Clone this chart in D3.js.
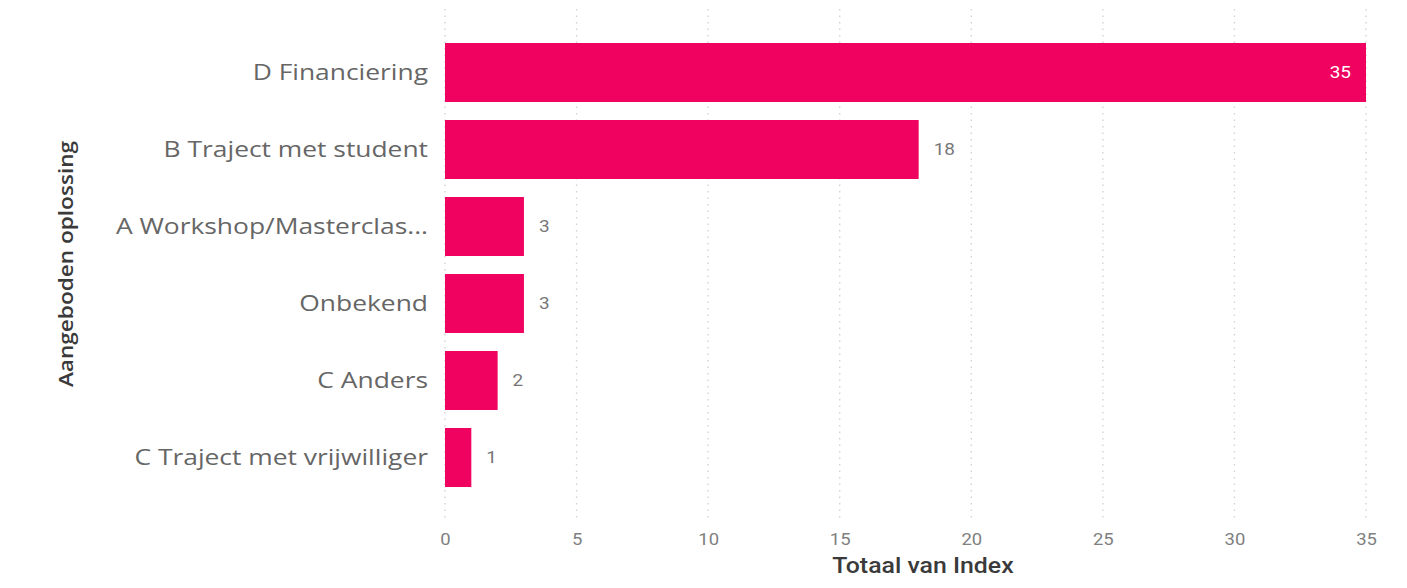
<!DOCTYPE html>
<html>
<head>
<meta charset="utf-8">
<script src="https://cdn.jsdelivr.net/npm/d3@7"></script>
<style>
  html, body { margin: 0; padding: 0; background: #fff; }
  svg { display: block; }
</style>
</head>
<body>
<svg id="chart" width="1407" height="588"></svg>
<script>
// Categories and their totals, top to bottom
const categories = [
  "D Financiering",
  "B Traject met student",
  "A Workshop/Masterclas...",
  "Onbekend",
  "C Anders",
  "C Traject met vrijwilliger"
];
const values = [35, 18, 3, 3, 2, 1];
const xTicks = [0, 5, 10, 15, 20, 25, 30, 35];

const xTitle = "Totaal van Index";
const yTitle = "Aangeboden oplossing";

const rows = categories.map((c, i) => ({ cat: c, val: values[i] }));

const svg = d3.select("#chart");

const x = d3.scaleLinear().domain([0, 35]).range([445, 1366]);
const y = d3.scaleBand()
  .domain(categories)
  .range([34, 496])
  .paddingInner(0.234)
  .paddingOuter(0.117);

const barColor = "#F00360";

// Widen a text element horizontally around its own anchor point
function widen(sel, sx) {
  sel.each(function () {
    const t = d3.select(this);
    const tx = +t.attr("x") || 0;
    const ty = +t.attr("y") || 0;
    t.attr("transform", `translate(${tx},${ty}) scale(${sx},1) translate(${-tx},${-ty})`);
  });
}

// Dotted vertical gridlines
svg.append("g")
  .selectAll("line")
  .data(xTicks)
  .join("line")
  .attr("x1", d => x(d)).attr("x2", d => x(d))
  .attr("y1", 9).attr("y2", 522)
  .attr("stroke", "#d3d3d3")
  .attr("stroke-width", 1.4)
  .attr("stroke-dasharray", "1.5,5");

// X axis tick labels
const xAxis = d3.axisBottom(x).tickValues(xTicks).tickSize(0).tickPadding(0);
const gx = svg.append("g").attr("transform", "translate(0,533)").call(xAxis);
gx.select(".domain").remove();
gx.selectAll("text")
  .attr("fill", "#808080")
  .attr("font-family", "Roboto, sans-serif")
  .attr("font-size", 16.5)
  .call(widen, 1.12);

// Y axis category labels
const yAxis = d3.axisLeft(y).tickSize(0).tickPadding(17);
const gy = svg.append("g").attr("transform", "translate(445,0)").call(yAxis);
gy.select(".domain").remove();
gy.selectAll("text")
  .attr("fill", "#666")
  .attr("font-family", "'Open Sans', sans-serif")
  .attr("font-size", 22)
  .call(widen, 1.2);

// Bars
svg.append("g")
  .selectAll("rect")
  .data(rows)
  .join("rect")
  .attr("x", x(0))
  .attr("y", d => y(d.cat))
  .attr("width", d => x(d.val) - x(0))
  .attr("height", y.bandwidth())
  .attr("fill", barColor);

// Value labels: inside for the long bar, outside otherwise
svg.append("g")
  .selectAll("text")
  .data(rows)
  .join("text")
  .attr("x", d => d.val >= 30 ? x(d.val) - 15 : x(d.val) + 15)
  .attr("y", d => y(d.cat) + y.bandwidth() / 2 + 6)
  .attr("text-anchor", d => d.val >= 30 ? "end" : "start")
  .attr("fill", d => d.val >= 30 ? "#fff" : "#777")
  .attr("font-family", "Roboto, sans-serif")
  .attr("font-size", 16.5)
  .text(d => d.val)
  .call(widen, 1.15);

// Axis titles
svg.append("text")
  .attr("x", 923)
  .attr("y", 573)
  .attr("text-anchor", "middle")
  .attr("fill", "#3a3a3a")
  .attr("font-family", "Roboto, sans-serif")
  .attr("font-weight", 500)
  .attr("font-size", 22)
  .text(xTitle)
  .call(widen, 1.13);

svg.append("g")
  .attr("transform", "translate(73,264) rotate(-90)")
  .append("text")
  .attr("x", 0).attr("y", 0)
  .attr("text-anchor", "middle")
  .attr("fill", "#3a3a3a")
  .attr("font-family", "'Open Sans', sans-serif")
  .attr("font-weight", 600)
  .attr("font-size", 20)
  .text(yTitle)
  .call(widen, 1.13);
</script>
</body>
</html>
